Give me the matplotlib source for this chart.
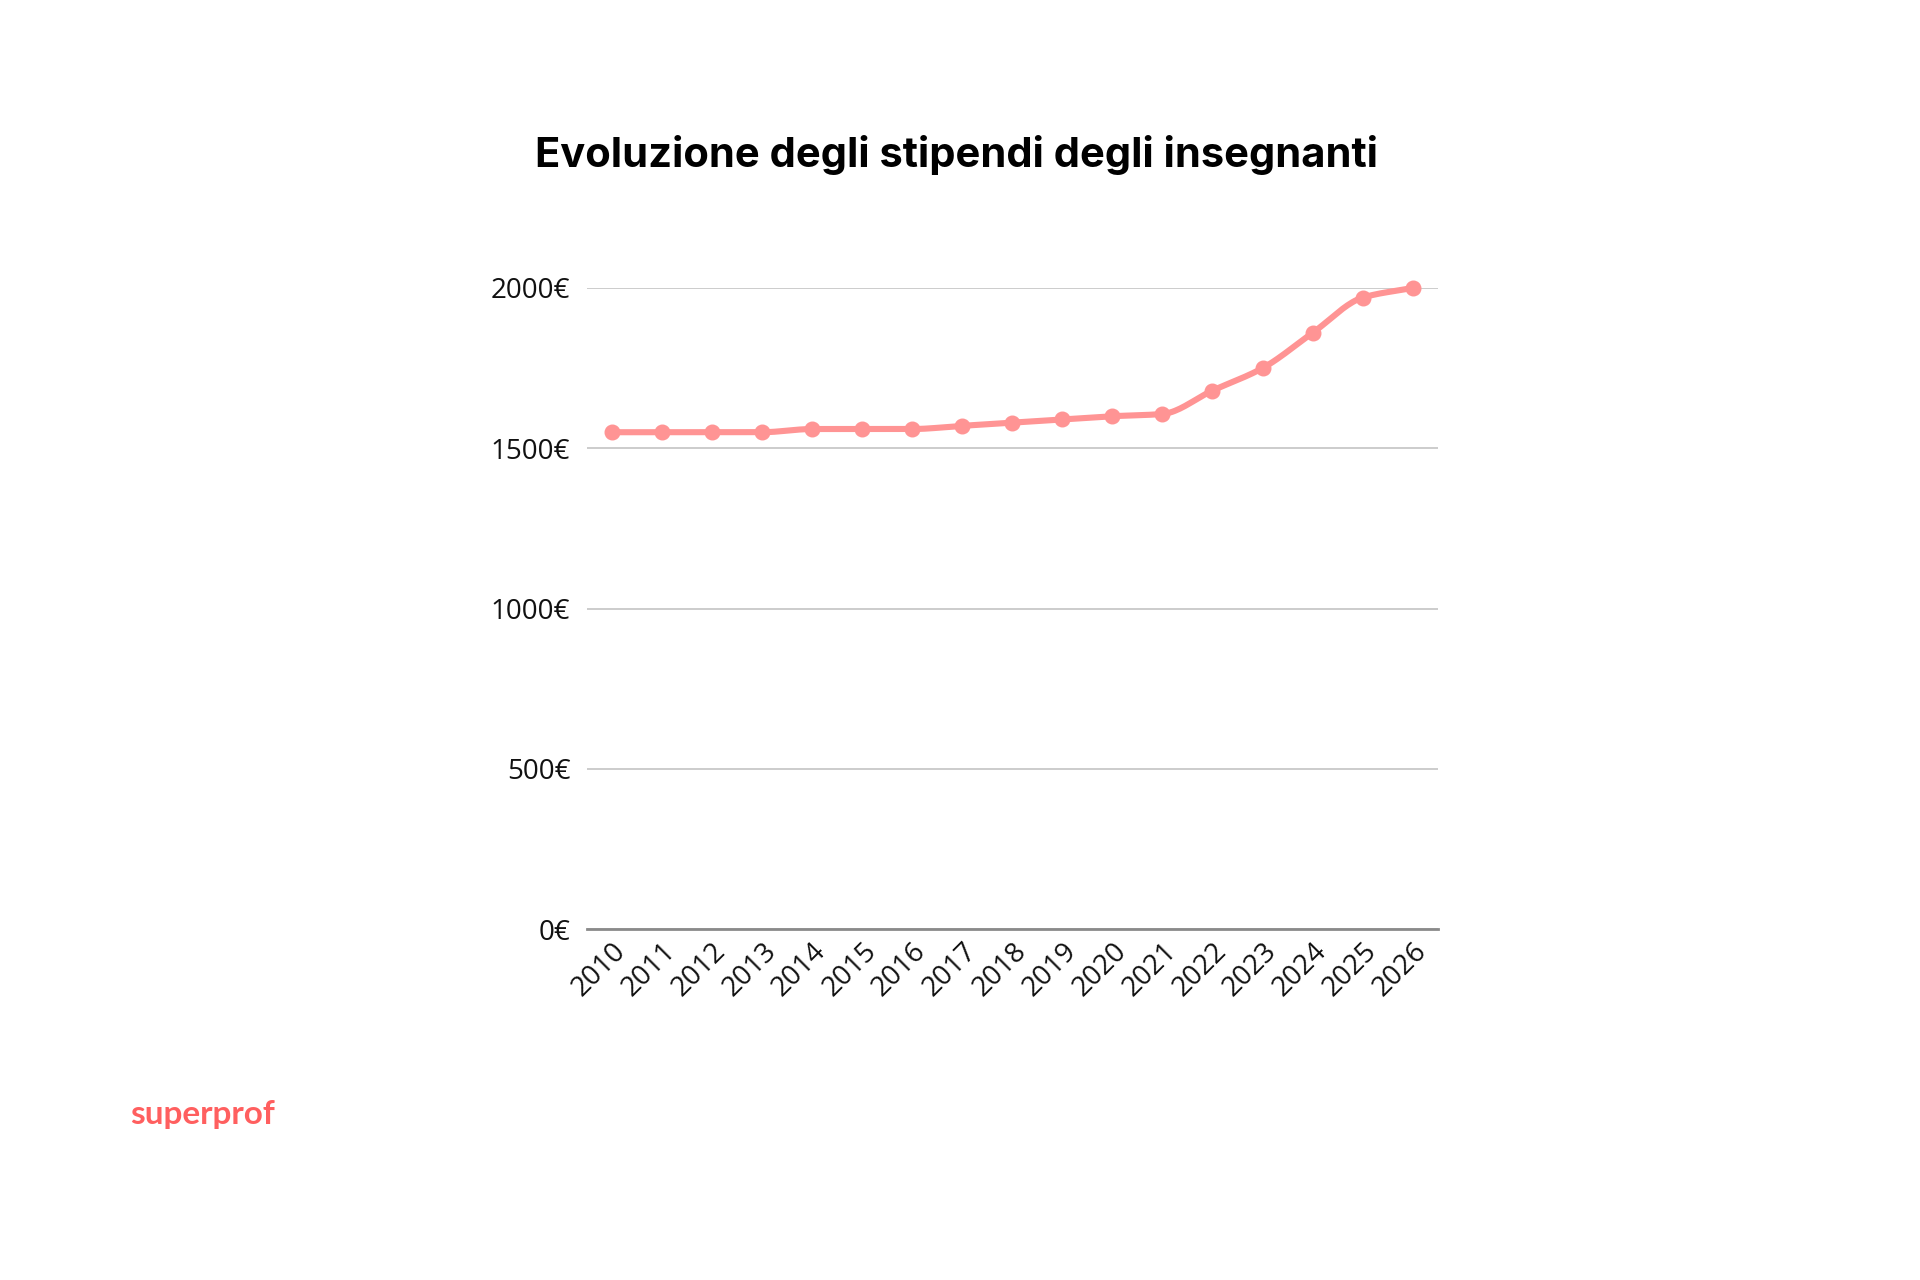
import numpy as np
import matplotlib
matplotlib.use("Agg")
import matplotlib.pyplot as plt

years = ["2010", "2011", "2012", "2013", "2014", "2015", "2016", "2017", "2018",
         "2019", "2020", "2021", "2022", "2023", "2024", "2025", "2026"]
salaries = [1550, 1550, 1550, 1550, 1560, 1560, 1560, 1570, 1580,
            1590, 1600, 1607, 1680, 1750, 1860, 1970, 2000]
yticks = [0, 500, 1000, 1500, 2000]
ytick_labels = ["0€", "500€", "1000€", "1500€", "2000€"]
title = "Evoluzione degli stipendi degli insegnanti"
brand = "superprof"

LINE = "#ff9494"


def monotone_curve(x, y, n=20):
    """Monotone cubic (Fritsch-Carlson) rendering of the line between points."""
    x = np.asarray(x, float)
    y = np.asarray(y, float)
    h = np.diff(x)
    d = np.diff(y) / h
    m = np.zeros_like(y)
    m[0], m[-1] = d[0], d[-1]
    for i in range(1, len(y) - 1):
        if d[i - 1] * d[i] <= 0:
            m[i] = 0
        else:
            w1 = 2 * h[i] + h[i - 1]
            w2 = h[i] + 2 * h[i - 1]
            m[i] = (w1 + w2) / (w1 / d[i - 1] + w2 / d[i])
    xs, ys = [], []
    for i in range(len(x) - 1):
        t = np.linspace(0, 1, n, endpoint=False)
        h00 = 2 * t**3 - 3 * t**2 + 1
        h10 = t**3 - 2 * t**2 + t
        h01 = -2 * t**3 + 3 * t**2
        h11 = t**3 - t**2
        xs.append(x[i] + t * h[i])
        ys.append(h00 * y[i] + h10 * h[i] * m[i] + h01 * y[i + 1] + h11 * h[i] * m[i + 1])
    xs.append([x[-1]])
    ys.append([y[-1]])
    return np.concatenate(xs), np.concatenate(ys)


fig = plt.figure(figsize=(19.2, 12.8), dpi=100)
fig.patch.set_facecolor("white")
ax = fig.add_axes([0.3057, 0.2742, 0.4431, 0.5008])

xpos = np.arange(len(years))
cx, cy = monotone_curve(xpos, salaries)
ax.plot(cx, cy, color=LINE, lw=4.4, solid_capstyle="round", clip_on=False, zorder=3)
ax.plot(xpos, salaries, "o", color=LINE, ms=10.5, clip_on=False, zorder=4)

ax.set_xlim(-0.5, len(years) - 0.5)
ax.set_ylim(0, 2000)
tick_font = dict(fontsize=20, family="Open Sans", fontweight="normal", color="#111111")
ax.set_yticks(yticks)
ax.set_yticklabels(ytick_labels, **tick_font)
ax.set_xticks(xpos)
ax.set_xticklabels(years, rotation=45, ha="right", va="top", rotation_mode="anchor", **tick_font)
ax.tick_params(axis="both", length=0)
ax.tick_params(axis="y", pad=12)
ax.tick_params(axis="x", pad=6)

ax.grid(axis="y", color="#c8c8c8", lw=1.3)
ax.set_axisbelow(True)
for s in ["top", "right", "left"]:
    ax.spines[s].set_visible(False)
ax.spines["bottom"].set_color("#8a8a8a")
ax.spines["bottom"].set_linewidth(2)

fig.text(0.498, 0.879, title, ha="center", va="center", fontsize=30,
         family="Inter", fontweight="bold", color="#000000")
fig.text(0.0677, 0.129, brand, ha="left", va="center", fontsize=24,
         family="Lato", fontweight="bold", color="#ff5f5f")

fig.savefig("out.png", dpi=100, facecolor="white")
